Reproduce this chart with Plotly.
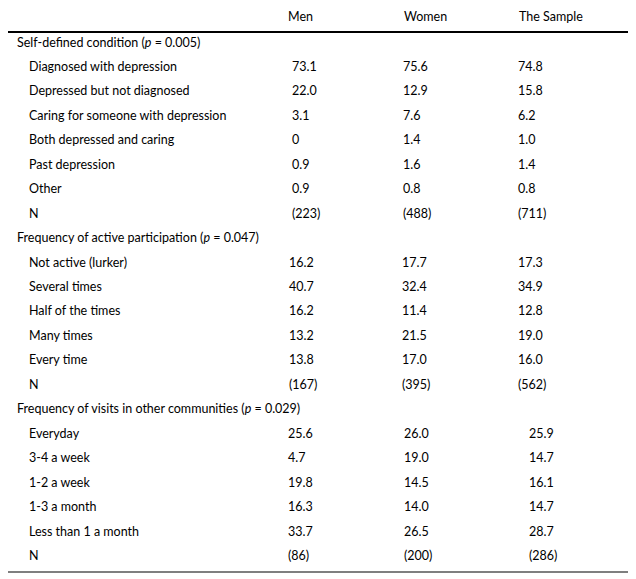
import plotly.graph_objects as go

# ---- data ----
columns = ["Men", "Women", "The Sample"]

section_titles = ["Self-defined condition", "Frequency of active participation",
                  "Frequency of visits in other communities"]
p_values = ["0.005", "0.047", "0.029"]

condition_labels = ["Diagnosed with depression", "Depressed but not diagnosed",
                    "Caring for someone with depression", "Both depressed and caring",
                    "Past depression", "Other"]
condition_men = ["73.1", "22.0", "3.1", "0", "0.9", "0.9"]
condition_women = ["75.6", "12.9", "7.6", "1.4", "1.6", "0.8"]
condition_sample = ["74.8", "15.8", "6.2", "1.0", "1.4", "0.8"]
condition_n = ["223", "488", "711"]

participation_labels = ["Not active (lurker)", "Several times", "Half of the times",
                        "Many times", "Every time"]
participation_men = ["16.2", "40.7", "16.2", "13.2", "13.8"]
participation_women = ["17.7", "32.4", "11.4", "21.5", "17.0"]
participation_sample = ["17.3", "34.9", "12.8", "19.0", "16.0"]
participation_n = ["167", "395", "562"]

visits_labels = ["Everyday", "3-4 a week", "1-2 a week", "1-3 a month", "Less than 1 a month"]
visits_men = ["25.6", "4.7", "19.8", "16.3", "33.7"]
visits_women = ["26.0", "19.0", "14.5", "14.0", "26.5"]
visits_sample = ["25.9", "14.7", "16.1", "14.7", "28.7"]
visits_n = ["86", "200", "286"]

sections = [
    (condition_labels, condition_men, condition_women, condition_sample, condition_n),
    (participation_labels, participation_men, participation_women, participation_sample, participation_n),
    (visits_labels, visits_men, visits_women, visits_sample, visits_n),
]

# ---- layout geometry ----
W, H = 636, 579
PAGE_OFF = 8  # browser body margin
FONT = "Lato"
FS = 12.5
COLOR = "#000000"
row_h = 24.45
y0 = 42.0
title_x = 15
item_x = 27
col_x = [[290, 401, 516], [287, 400, 516], [286, 402, 527]]
header_x = [286, 402, 517]

annotations = []


def txt(x, y, s):
    annotations.append(dict(x=x, y=y, text=s, showarrow=False, xanchor="left",
                            yanchor="middle", xref="x", yref="y",
                            font=dict(family=FONT, size=FS, color=COLOR)))


for cx, name in zip(header_x, columns):
    txt(cx, 16, name)

r = 0
for si, (labels, men, women, sample, n) in enumerate(sections):
    y = y0 + r * row_h
    txt(title_x, y, f"{section_titles[si]} (<i>p</i> = {p_values[si]})")
    r += 1
    for i, lab in enumerate(labels):
        y = y0 + r * row_h
        txt(item_x, y, lab)
        for ci, vals in enumerate([men, women, sample]):
            txt(col_x[si][ci], y, vals[i])
        r += 1
    y = y0 + r * row_h
    txt(item_x, y, "N")
    for ci in range(3):
        txt(col_x[si][ci], y, f"({n[ci]})")
    r += 1

shapes = [
    dict(type="line", x0=7, x1=628, y0=6, y1=6, xref="x", yref="y",
         line=dict(color="black", width=1)),
    dict(type="line", x0=7, x1=628, y0=32, y1=32, xref="x", yref="y",
         line=dict(color="black", width=2.2)),
    dict(type="line", x0=7, x1=628, y0=572, y1=572, xref="x", yref="y",
         line=dict(color="black", width=1.2)),
]

fig = go.Figure()
fig.update_layout(
    width=W, height=H, margin=dict(l=0, r=0, t=0, b=0),
    paper_bgcolor="white", plot_bgcolor="white",
    xaxis=dict(range=[PAGE_OFF, W + PAGE_OFF], visible=False, fixedrange=True),
    yaxis=dict(range=[H + PAGE_OFF, PAGE_OFF], visible=False, fixedrange=True),
    annotations=annotations, shapes=shapes, showlegend=False,
)
fig.write_html("out.html")
